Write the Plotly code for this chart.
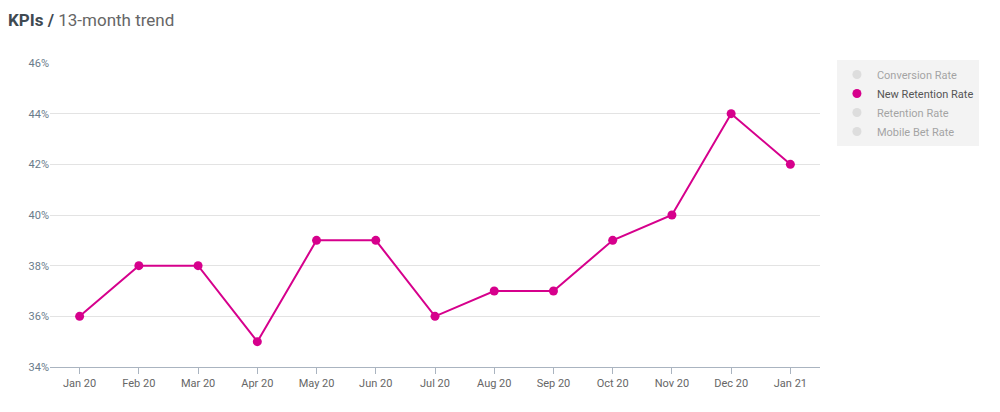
import plotly.graph_objects as go

months = ["Jan 20","Feb 20","Mar 20","Apr 20","May 20","Jun 20","Jul 20","Aug 20","Sep 20","Oct 20","Nov 20","Dec 20","Jan 21"]
new_retention = [36,38,38,35,39,39,36,37,37,39,40,44,42]
y_ticks = [34,36,38,40,42,44,46]
y_labels = [f"{v}%" for v in y_ticks]
hidden_series = ["Conversion Rate", "Retention Rate", "Mobile Bet Rate"]

PINK = "#d6008c"
fig = go.Figure()

def hidden(n):
    return go.Scatter(x=[months[0]], y=[None], mode="markers", name=n,
                      marker=dict(color="#c8c8c8", size=9), visible="legendonly")

fig.add_trace(hidden(hidden_series[0]))
fig.add_trace(go.Scatter(x=months, y=new_retention, mode="lines", line=dict(color=PINK, width=2),
                         showlegend=False, hoverinfo="skip"))
fig.add_trace(go.Scatter(x=months, y=new_retention, mode="markers", name="New Retention Rate",
                         marker=dict(color=PINK, size=9)))
for n in hidden_series[1:]:
    fig.add_trace(hidden(n))

fig.update_layout(
    width=1000, height=412, plot_bgcolor="white", paper_bgcolor="white",
    font=dict(family="Roboto", color="#555", size=11),
    margin=dict(l=42, r=188, t=55, b=53),
    title=dict(text="<b style='color:#3f4a52'>KPIs /</b> 13-month trend", x=0.0, xanchor="left",
               y=0.985, yanchor="top", font=dict(size=17, color="#666")),
    showlegend=True,
    legend=dict(x=1.022, xanchor="left", y=1.01, yanchor="top", bgcolor="#f3f3f3",
                font=dict(size=11, color="#555"), itemclick=False, itemwidth=30,
                traceorder="normal"),
    xaxis=dict(type="category", categoryorder="array", categoryarray=months, showgrid=False,
               showline=True, linecolor="#aab4c0", ticks="outside", ticklen=6, tickcolor="#aab4c0",
               tickfont=dict(color="#666", size=11), range=[-0.5, 12.5]),
    yaxis=dict(range=[34, 46], tickvals=y_ticks, ticktext=y_labels, showgrid=True,
               gridcolor="#e3e3e3", zeroline=False, tickfont=dict(color="#6a7b8a", size=11)),
)
fig.write_html("out.html")
